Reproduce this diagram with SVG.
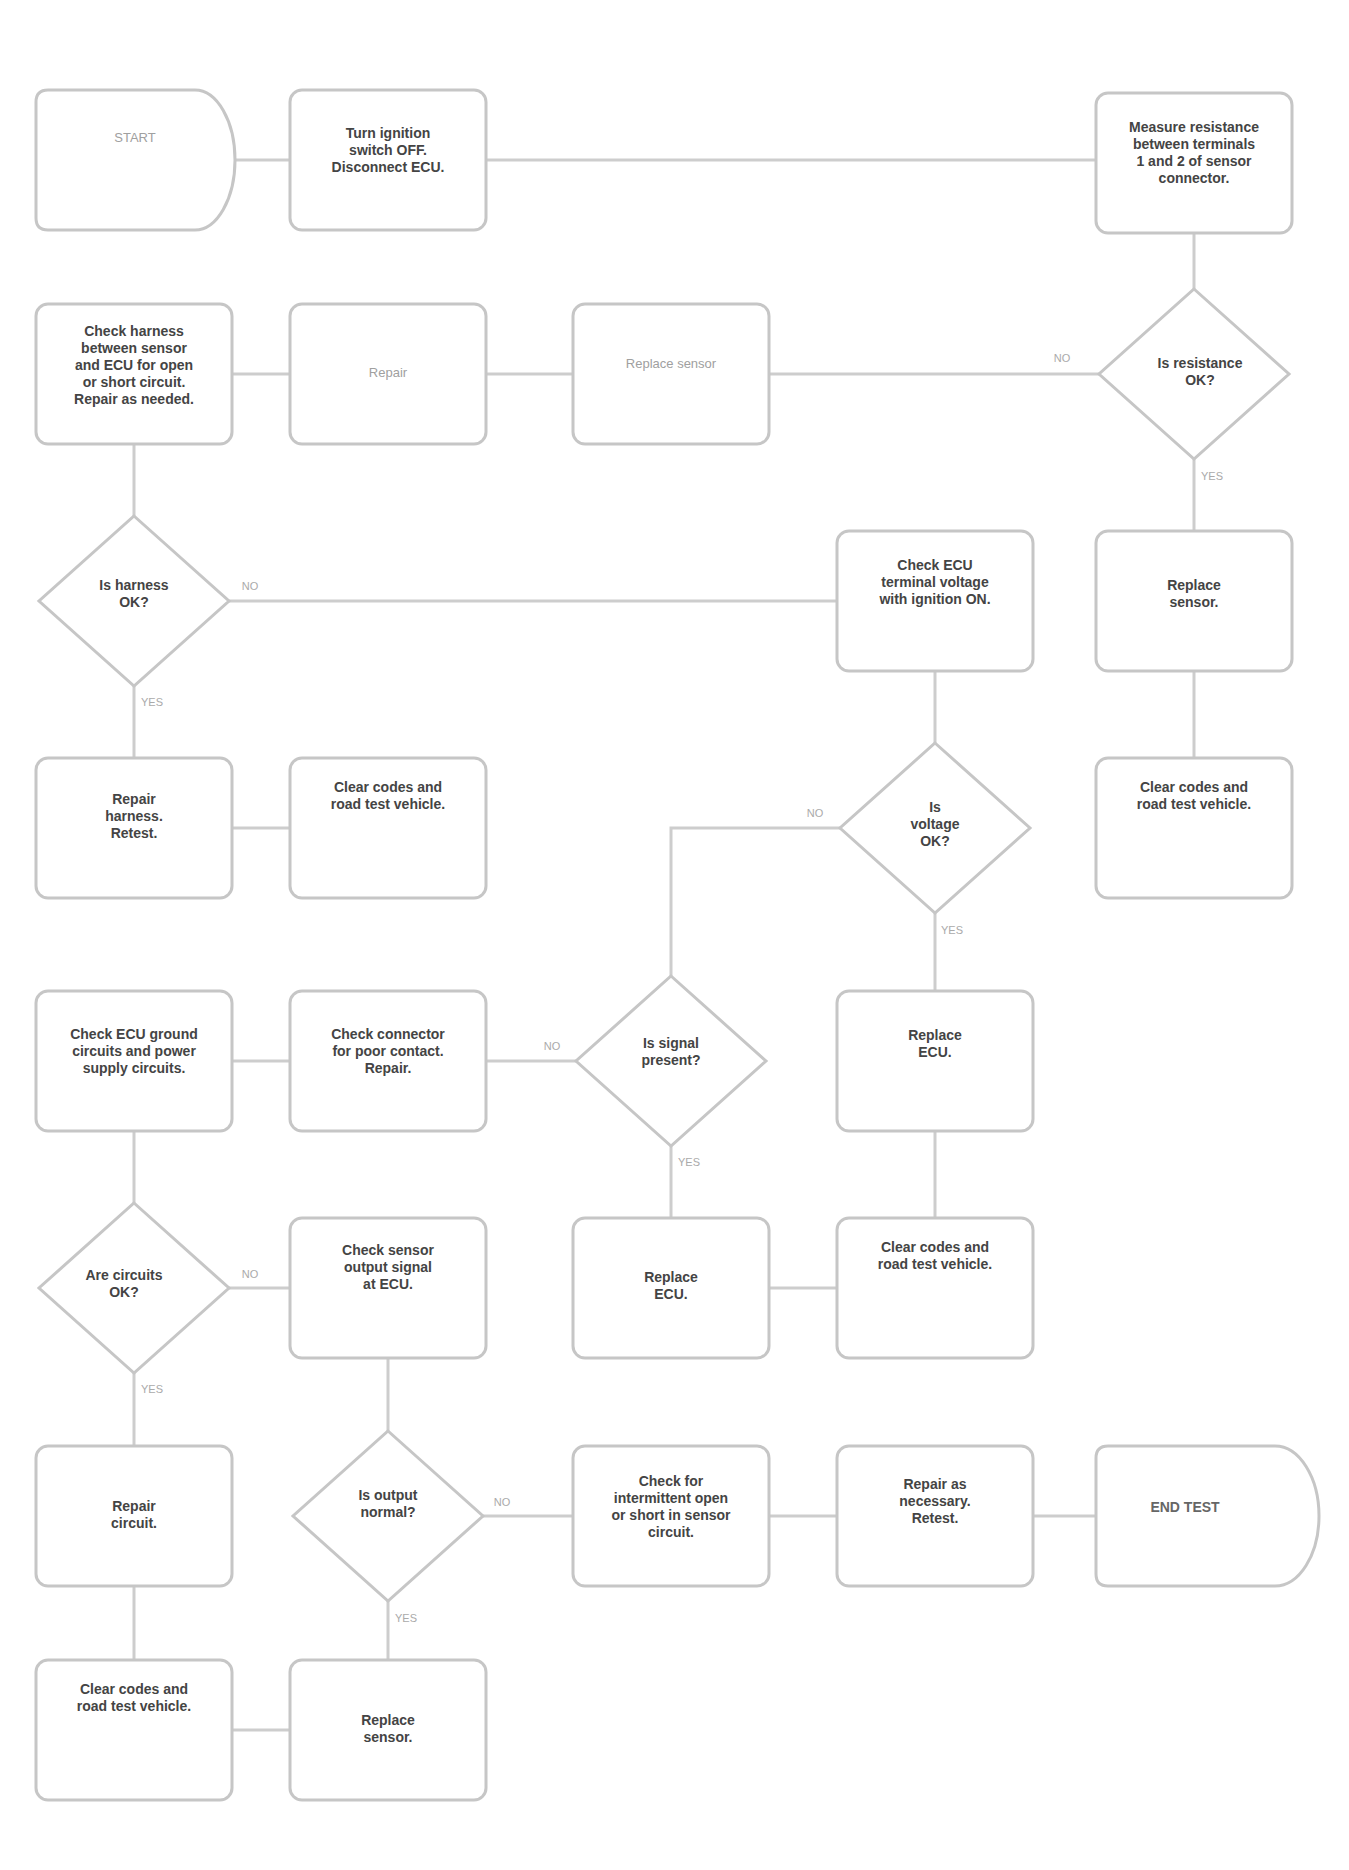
<svg xmlns="http://www.w3.org/2000/svg" width="1349" height="1870" viewBox="0 0 1349 1870">
<style>
.bx{fill:#fff;stroke:#c6c6c6;stroke-width:3}
.cn{fill:none;stroke:#cdcdcd;stroke-width:3}
.t{font-family:"Liberation Sans",Arial,sans-serif;font-size:14px;font-weight:bold;fill:#444;text-anchor:middle}
.tl{font-family:"Liberation Sans",Arial,sans-serif;font-size:13px;fill:#a0a0a0;text-anchor:middle}
.lb{font-family:"Liberation Sans",Arial,sans-serif;font-size:11px;fill:#aaa;text-anchor:middle}
</style>
<rect width="1349" height="1870" fill="#fff"/>
<g id="connectors">
<path class="cn" d="M235,160 H290"/>
<path class="cn" d="M486,160 H1096"/>
<path class="cn" d="M1194,233 V289"/>
<path class="cn" d="M1099,374 H769"/>
<path class="cn" d="M573,374 H486"/>
<path class="cn" d="M290,374 H232"/>
<path class="cn" d="M134,444 V516"/>
<path class="cn" d="M229,601 H837"/>
<path class="cn" d="M134,686 V758"/>
<path class="cn" d="M232,828 H290"/>
<path class="cn" d="M1194,459 V531"/>
<path class="cn" d="M1194,671 V758"/>
<path class="cn" d="M935,671 V743"/>
<path class="cn" d="M840,828 H671 V976"/>
<path class="cn" d="M935,913 V991"/>
<path class="cn" d="M935,1131 V1218"/>
<path class="cn" d="M576,1061 H486"/>
<path class="cn" d="M290,1061 H232"/>
<path class="cn" d="M671,1146 V1218"/>
<path class="cn" d="M769,1288 H837"/>
<path class="cn" d="M134,1131 V1203"/>
<path class="cn" d="M229,1288 H290"/>
<path class="cn" d="M134,1373 V1446"/>
<path class="cn" d="M134,1586 V1660"/>
<path class="cn" d="M232,1730 H290"/>
<path class="cn" d="M388,1358 V1431"/>
<path class="cn" d="M483,1516 H573"/>
<path class="cn" d="M769,1516 H837"/>
<path class="cn" d="M1033,1516 H1096"/>
<path class="cn" d="M388,1601 V1660"/>
<text class="lb" x="1062" y="362">NO</text>
<text class="lb" x="1212" y="480">YES</text>
<text class="lb" x="250" y="590">NO</text>
<text class="lb" x="152" y="706">YES</text>
<text class="lb" x="815" y="817">NO</text>
<text class="lb" x="952" y="934">YES</text>
<text class="lb" x="552" y="1050">NO</text>
<text class="lb" x="689" y="1166">YES</text>
<text class="lb" x="250" y="1278">NO</text>
<text class="lb" x="152" y="1393">YES</text>
<text class="lb" x="502" y="1506">NO</text>
<text class="lb" x="406" y="1622">YES</text>
</g>
<g id="n1"><path class="bx" d="M48,90 H195 A40 70 0 0 1 195,230 H48 Q36,230 36,218 V102 Q36,90 48,90 Z"/><text class="tl" x="135" y="142">START</text></g>
<g id="n2"><rect class="bx" x="290" y="90" width="196" height="140" rx="12"/><text class="t" x="388" y="138">Turn ignition</text><text class="t" x="388" y="155">switch OFF.</text><text class="t" x="388" y="172">Disconnect ECU.</text></g>
<g id="n3"><rect class="bx" x="1096" y="93" width="196" height="140" rx="12"/><text class="t" x="1194" y="132">Measure resistance</text><text class="t" x="1194" y="149">between terminals</text><text class="t" x="1194" y="166">1 and 2 of sensor</text><text class="t" x="1194" y="183">connector.</text></g>
<g id="n4"><polygon class="bx" points="1194,289 1289,374 1194,459 1099,374"/><text class="t" x="1200" y="368">Is resistance</text><text class="t" x="1200" y="385">OK?</text></g>
<g id="n5"><rect class="bx" x="573" y="304" width="196" height="140" rx="12"/><text class="tl" x="671" y="368">Replace sensor</text></g>
<g id="n6"><rect class="bx" x="290" y="304" width="196" height="140" rx="12"/><text class="tl" x="388" y="377">Repair</text></g>
<g id="n7"><rect class="bx" x="36" y="304" width="196" height="140" rx="12"/><text class="t" x="134" y="336">Check harness</text><text class="t" x="134" y="353">between sensor</text><text class="t" x="134" y="370">and ECU for open</text><text class="t" x="134" y="387">or short circuit.</text><text class="t" x="134" y="404">Repair as needed.</text></g>
<g id="n8"><polygon class="bx" points="134,516 229,601 134,686 39,601"/><text class="t" x="134" y="590">Is harness</text><text class="t" x="134" y="607">OK?</text></g>
<g id="n9"><rect class="bx" x="837" y="531" width="196" height="140" rx="12"/><text class="t" x="935" y="570">Check ECU</text><text class="t" x="935" y="587">terminal voltage</text><text class="t" x="935" y="604">with ignition ON.</text></g>
<g id="n10"><rect class="bx" x="1096" y="531" width="196" height="140" rx="12"/><text class="t" x="1194" y="590">Replace</text><text class="t" x="1194" y="607">sensor.</text></g>
<g id="n11"><rect class="bx" x="36" y="758" width="196" height="140" rx="12"/><text class="t" x="134" y="804">Repair</text><text class="t" x="134" y="821">harness.</text><text class="t" x="134" y="838">Retest.</text></g>
<g id="n12"><rect class="bx" x="290" y="758" width="196" height="140" rx="12"/><text class="t" x="388" y="792">Clear codes and</text><text class="t" x="388" y="809">road test vehicle.</text></g>
<g id="n13"><polygon class="bx" points="935,743 1030,828 935,913 840,828"/><text class="t" x="935" y="812">Is</text><text class="t" x="935" y="829">voltage</text><text class="t" x="935" y="846">OK?</text></g>
<g id="n14"><rect class="bx" x="1096" y="758" width="196" height="140" rx="12"/><text class="t" x="1194" y="792">Clear codes and</text><text class="t" x="1194" y="809">road test vehicle.</text></g>
<g id="n15"><rect class="bx" x="36" y="991" width="196" height="140" rx="12"/><text class="t" x="134" y="1039">Check ECU ground</text><text class="t" x="134" y="1056">circuits and power</text><text class="t" x="134" y="1073">supply circuits.</text></g>
<g id="n16"><rect class="bx" x="290" y="991" width="196" height="140" rx="12"/><text class="t" x="388" y="1039">Check connector</text><text class="t" x="388" y="1056">for poor contact.</text><text class="t" x="388" y="1073">Repair.</text></g>
<g id="n17"><polygon class="bx" points="671,976 766,1061 671,1146 576,1061"/><text class="t" x="671" y="1048">Is signal</text><text class="t" x="671" y="1065">present?</text></g>
<g id="n18"><rect class="bx" x="837" y="991" width="196" height="140" rx="12"/><text class="t" x="935" y="1040">Replace</text><text class="t" x="935" y="1057">ECU.</text></g>
<g id="n19"><polygon class="bx" points="134,1203 229,1288 134,1373 39,1288"/><text class="t" x="124" y="1280">Are circuits</text><text class="t" x="124" y="1297">OK?</text></g>
<g id="n20"><rect class="bx" x="290" y="1218" width="196" height="140" rx="12"/><text class="t" x="388" y="1255">Check sensor</text><text class="t" x="388" y="1272">output signal</text><text class="t" x="388" y="1289">at ECU.</text></g>
<g id="n21"><rect class="bx" x="573" y="1218" width="196" height="140" rx="12"/><text class="t" x="671" y="1282">Replace</text><text class="t" x="671" y="1299">ECU.</text></g>
<g id="n22"><rect class="bx" x="837" y="1218" width="196" height="140" rx="12"/><text class="t" x="935" y="1252">Clear codes and</text><text class="t" x="935" y="1269">road test vehicle.</text></g>
<g id="n23"><rect class="bx" x="36" y="1446" width="196" height="140" rx="12"/><text class="t" x="134" y="1511">Repair</text><text class="t" x="134" y="1528">circuit.</text></g>
<g id="n24"><polygon class="bx" points="388,1431 483,1516 388,1601 293,1516"/><text class="t" x="388" y="1500">Is output</text><text class="t" x="388" y="1517">normal?</text></g>
<g id="n25"><rect class="bx" x="573" y="1446" width="196" height="140" rx="12"/><text class="t" x="671" y="1486">Check for</text><text class="t" x="671" y="1503">intermittent open</text><text class="t" x="671" y="1520">or short in sensor</text><text class="t" x="671" y="1537">circuit.</text></g>
<g id="n26"><rect class="bx" x="837" y="1446" width="196" height="140" rx="12"/><text class="t" x="935" y="1489">Repair as</text><text class="t" x="935" y="1506">necessary.</text><text class="t" x="935" y="1523">Retest.</text></g>
<g id="n27"><path class="bx" d="M1108,1446 H1275 A44 70 0 0 1 1275,1586 H1108 Q1096,1586 1096,1574 V1458 Q1096,1446 1108,1446 Z"/><text class="t" x="1185" y="1512" style="fill:#666">END TEST</text></g>
<g id="n28"><rect class="bx" x="36" y="1660" width="196" height="140" rx="12"/><text class="t" x="134" y="1694">Clear codes and</text><text class="t" x="134" y="1711">road test vehicle.</text></g>
<g id="n29"><rect class="bx" x="290" y="1660" width="196" height="140" rx="12"/><text class="t" x="388" y="1725">Replace</text><text class="t" x="388" y="1742">sensor.</text></g>
</svg>
